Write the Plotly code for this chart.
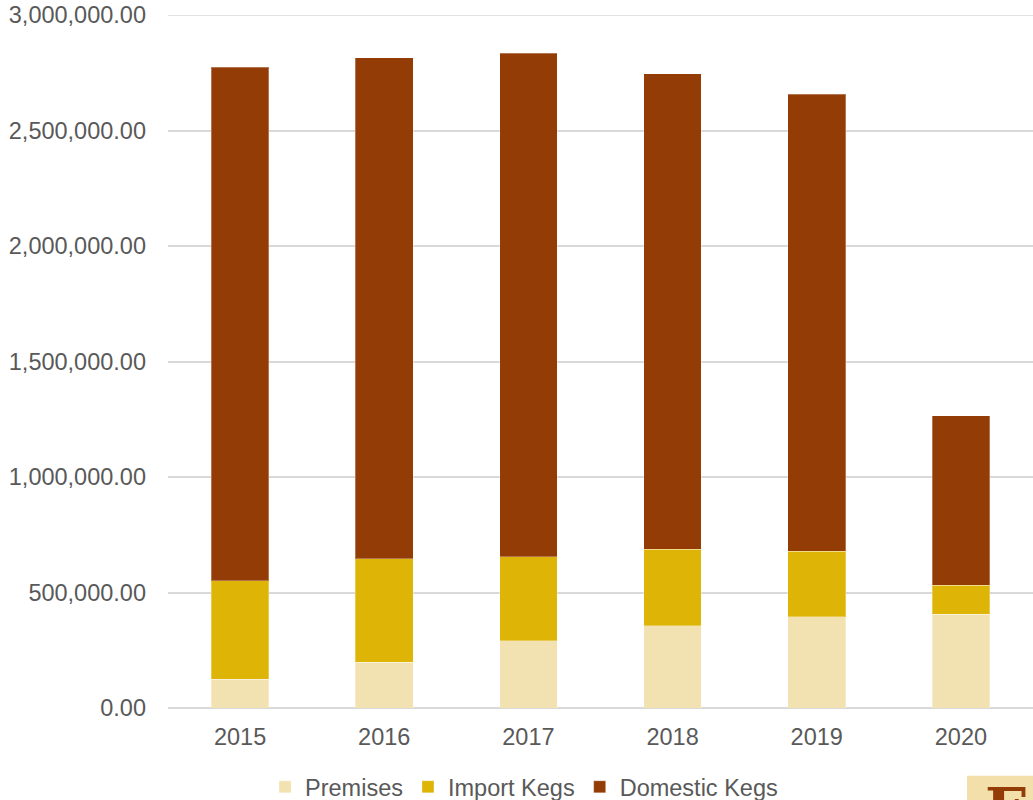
import plotly.graph_objects as go

years = ["2015", "2016", "2017", "2018", "2019", "2020"]
premises = [123500, 198000, 291000, 357000, 396000, 405000]
import_kegs = [427500, 448000, 364000, 331000, 283000, 126000]
domestic_kegs = [2223000, 2168000, 2179000, 2057000, 1979000, 735000]

series_names = ["Premises", "Import Kegs", "Domestic Kegs"]
series_colors = ["#F2E2B1", "#DEB406", "#943C06"]

FONT = "Liberation Sans, Arial, sans-serif"
TEXT_COLOR = "#595959"
GRID = "#D9D9D9"

fig = go.Figure()
for name, vals, col in zip(series_names, [premises, import_kegs, domestic_kegs], series_colors):
    fig.add_trace(go.Bar(
        x=years, y=vals, name=name,
        marker=dict(color=col, line=dict(color="rgba(255,255,255,0.3)", width=1)),
    ))

fig.update_layout(
    barmode="stack",
    bargap=0.6,
    width=1033, height=800,
    margin=dict(l=168, r=0, t=15, b=92, autoexpand=False),
    paper_bgcolor="white",
    plot_bgcolor="white",
    font=dict(family=FONT, size=23.5, color=TEXT_COLOR),
    showlegend=True,
    legend=dict(
        orientation="h",
        x=0.4116, xanchor="center",
        y=-0.114, yanchor="middle",
        font=dict(family=FONT, size=23.5, color=TEXT_COLOR),
        bgcolor="rgba(0,0,0,0)",
        traceorder="normal",
    ),
    xaxis=dict(
        type="category", automargin=False,
        showgrid=False, showline=False, zeroline=False,
        ticks="", ticklabelstandoff=12,
        tickfont=dict(family=FONT, size=23.5, color=TEXT_COLOR),
    ),
    yaxis=dict(
        range=[0, 3000000], automargin=False,
        dtick=500000, tick0=0,
        tickformat=",.2f",
        ticklabeloverflow="allow",
        showgrid=True, gridcolor=GRID, gridwidth=1.5,
        zeroline=True, zerolinecolor=GRID, zerolinewidth=1.5,
        showline=False, ticks="", ticklabelstandoff=21,
        tickfont=dict(family=FONT, size=23.5, color=TEXT_COLOR),
    ),
)

# top border gridline at 3,000,000 (axis top edge)
fig.add_shape(type="line", xref="paper", yref="y", x0=0, x1=1,
              y0=3000000, y1=3000000, line=dict(color=GRID, width=1.5), layer="below")

# small logo box at bottom right
fig.add_shape(type="rect", xref="paper", yref="paper",
              x0=0.9237, x1=1.0, y0=-0.16, y1=-0.0977,
              fillcolor="#F2DFAA", line=dict(width=0), layer="above")
fig.add_annotation(xref="paper", yref="paper", x=0.942, y=-0.0938,
                   xanchor="left", yanchor="top", text="<b>F</b>", showarrow=False,
                   font=dict(family="DejaVu Serif, Liberation Serif, serif", size=58, color="#943C06"))

fig.write_html("out.html", config={"displayModeBar": False},
               post_script="document.body.style.margin='0';")
